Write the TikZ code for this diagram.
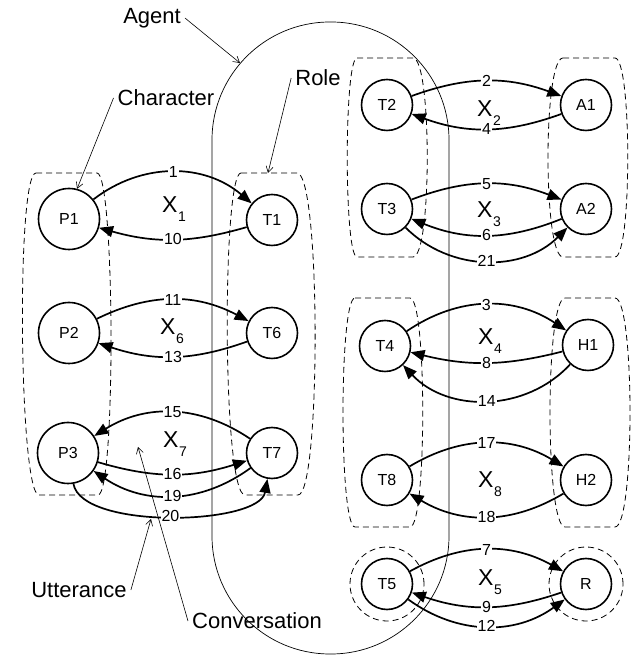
\documentclass[tikz,border=0pt]{standalone}
\usepackage{fontspec}
\setmainfont{Liberation Sans}
\usetikzlibrary{arrows.meta}
\newcommand{\Xsub}[1]{X\kern0.6pt\raisebox{-9pt}{\fontsize{14}{14}\selectfont #1}}
\begin{document}
\begin{tikzpicture}[x=1pt,y=1pt,
  state/.style={circle,draw,line width=1.6pt,fill=white,minimum size=51pt,inner sep=0pt,font=\fontsize{16}{16}\selectfont},
  pstate/.style={state,minimum size=61pt},
  msg/.style={line width=1.7pt,-{Triangle[length=14pt,width=11pt]}},
  num/.style={fill=white,inner sep=1pt,font=\fontsize{16}{16}\selectfont},
  grp/.style={line width=0.8pt,dash pattern=on 6pt off 4pt},
  callout/.style={inner sep=4pt,font=\fontsize{22}{22}\selectfont},
  pointer/.style={line width=0.6pt,-{Straight Barb[length=6pt,width=7pt]}},
  xlab/.style={anchor=base west,inner sep=0pt,font=\fontsize{23}{23}\selectfont}]
\useasboundingbox (0,0) rectangle (632,655);

% agent
\draw[line width=0.7pt,rounded corners=118pt] (212,1) rectangle (449,633);

% groups
\draw[grp] (36,482) -- (97,482) .. controls (115,482) and (116,160) .. (98,160) -- (39,160) .. controls (19,160) and (16,482) .. cycle;
\draw[grp] (241,482) -- (297,482) .. controls (321,482) and (321,160) .. (298,160) -- (245,160) .. controls (222,160) and (222,482) .. cycle;
\draw[grp] (357,597) -- (413,597) .. controls (432,597) and (432,398) .. (413,398) -- (357,398) .. controls (344,398) and (344,597) .. cycle;
\draw[grp] (563,597) -- (615,597) .. controls (632,597) and (632,398) .. (615,398) -- (563,398) .. controls (543,398) and (543,597) .. cycle;
\draw[grp] (355,357) -- (410,357) .. controls (427,357) and (427,128) .. (410,128) -- (355,128) .. controls (339,128) and (339,357) .. cycle;
\draw[grp] (565,357) -- (615,357) .. controls (635,357) and (635,128) .. (615,128) -- (565,128) .. controls (545,128) and (545,357) .. cycle;
\draw[grp] (387,71) circle (37pt);
\draw[grp] (586,71) circle (37pt);

% characters and roles
\node[pstate] (P1) at (69,436) {P1};
\node[pstate] (P2) at (69,322) {P2};
\node[pstate] (P3) at (68,202) {P3};
\node[state] (T1) at (272,435) {T1};
\node[state] (T6) at (272,322) {T6};
\node[state] (T7) at (272,202) {T7};
\node[state] (T2) at (387,550) {T2};
\node[state] (A1) at (586,550) {A1};
\node[state] (T3) at (387,446) {T3};
\node[state] (A2) at (586,446) {A2};
\node[state] (T4) at (385,309) {T4};
\node[state] (H1) at (588,310) {H1};
\node[state] (T8) at (387,175) {T8};
\node[state] (H2) at (586,175) {H2};
\node[state] (T5) at (387,71) {T5};
\node[state] (R) at (586,71) {R};

% utterances
\draw[msg] (P1) to[bend left=39] node[num]{1} (T1);
\draw[msg] (T1) to[bend left=16] node[num]{10} (P1);
\draw[msg] (P2) to[bend left=27] node[num]{11} (T6);
\draw[msg] (T6) to[bend left=19] node[num]{13} (P2);
\draw[msg] (T7) to[bend right=33] node[num]{15} (P3);
\draw[msg] (P3) to[bend right=17] node[num]{16} (T7);
\draw[msg] (T7) to[bend left=35] node[num]{19} (P3);
\draw[msg] (P3) to[out=-80,in=-100,looseness=0.62] node[num]{20} (T7);
\draw[msg] (T2) to[bend left=20] node[num]{2} (A1);
\draw[msg] (A1) to[bend left=20] node[num]{4} (T2);
\draw[msg] (T3) to[bend left=21] node[num]{5} (A2);
\draw[msg] (A2) to[bend left=22] node[num]{6} (T3);
\draw[msg] (T3) to[bend right=45] node[num]{21} (A2);
\draw[msg] (T4) to[bend left=34] node[num]{3} (H1);
\draw[msg] (H1) to[bend left=14] node[num]{8} (T4);
\draw[msg] (H1) to[bend left=47] node[num]{14} (T4);
\draw[msg] (T8) to[bend left=31] node[num]{17} (H2);
\draw[msg] (H2) to[bend left=31] node[num]{18} (T8);
\draw[msg] (T5) to[bend left=29] node[num]{7} (R);
\draw[msg] (R) to[bend left=19] node[num]{9} (T5);
\draw[msg] (T5) to[bend right=36] node[num]{12} (R);

% conversations
\node[xlab] (x1) at (162,442) {\Xsub{1}};
\node[xlab] (x6) at (160,320) {\Xsub{6}};
\node[xlab] (x7) at (163,207) {\Xsub{7}};
\node[xlab] (x2) at (477,538) {\Xsub{2}};
\node[xlab] (x3) at (477,437) {\Xsub{3}};
\node[xlab] (x4) at (478,310) {\Xsub{4}};
\node[xlab] (x8) at (478,167) {\Xsub{8}};
\node[xlab] (x5) at (478,69) {\Xsub{5}};

% callouts
\node[callout] (agentlbl) at (152,637) {Agent};
\node[callout] (charlbl) at (166,557) {Character};
\node[callout] (rolelbl) at (318,577) {Role};
\node[callout] (uttlbl) at (79,65) {Utterance};
\node[callout] (convlbl) at (257,34) {Conversation};
\coordinate (agentpt) at (240,592);
\coordinate (rolept) at (268,482);
\coordinate (uttpt) at (151,136);
\coordinate (convpt) at (138,208);
\draw[pointer] (agentlbl.east) -- (agentpt);
\draw[pointer] (charlbl.west) -- (P1.75);
\draw[pointer] (rolelbl.west) -- (rolept);
\draw[pointer] (uttlbl.east) -- (uttpt);
\draw[pointer] (convlbl.west) -- (convpt);
\end{tikzpicture}
\end{document}
